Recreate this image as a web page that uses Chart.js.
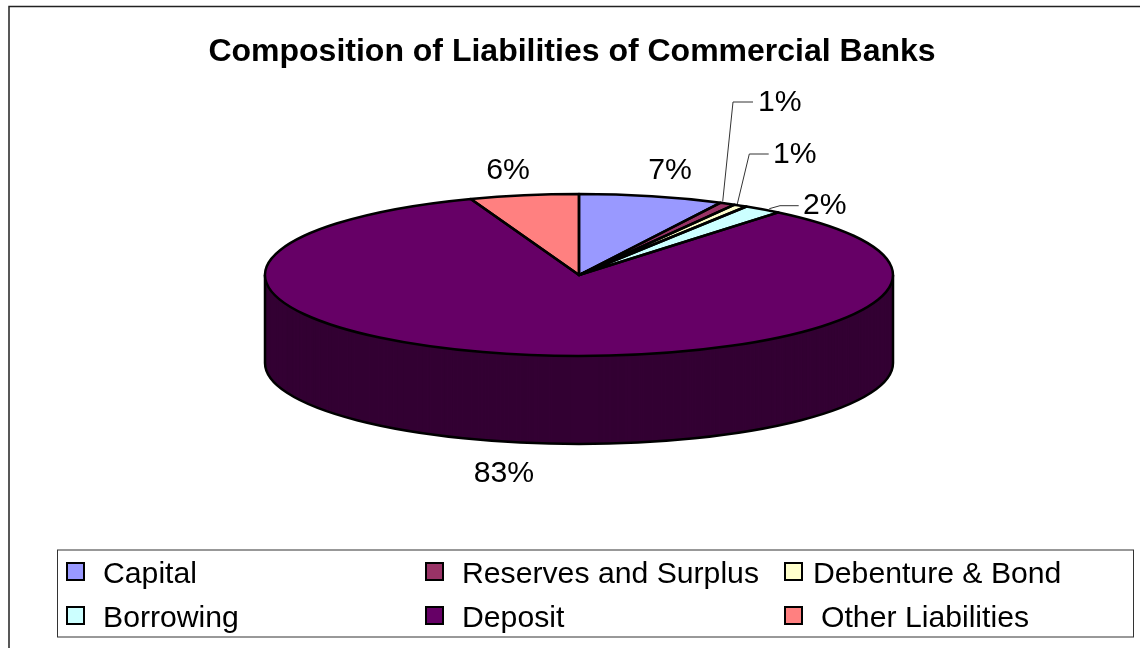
<!DOCTYPE html>
<html>
<head>
<meta charset="utf-8">
<title>Composition of Liabilities of Commercial Banks</title>
<script src="https://cdn.jsdelivr.net/npm/chart.js@4/dist/chart.umd.min.js"></script>
<style>
  html, body { margin: 0; padding: 0; background: #fff; overflow: hidden; }
  #wrap { position: relative; width: 1140px; height: 648px; }
</style>
</head>
<body>
<div id="wrap"><canvas id="pieChart" width="1140" height="648"></canvas></div>
<script>
var categories = ['Capital', 'Reserves and Surplus', 'Debenture & Bond', 'Borrowing', 'Deposit', 'Other Liabilities']
var shares = [7.45, 0.8, 0.7, 2.0, 83.45, 5.6]
var sliceColours = ['#9999FF', '#993366', '#FFFFCC', '#CCFFFF', '#660066', '#FF8080']
var sideColour = '#330033'

var FONT = '"Liberation Sans", Arial, sans-serif'

// the pie is a flat circle for Chart.js, squashed and extruded here
var pieX = 579, pieY = 275, squash = 81 / 314, depth = 88

// where each percent label goes, with a leader line for the small slices
var labelSpots = [
  { x: 670, y: 179 },
  { x: 758, y: 111, align: 'left', leader: [[722.7, 201.5], [733, 102], [753, 102]] },
  { x: 773, y: 163, align: 'left', leader: [[737.3, 204], [749.3, 154], [768.7, 154]] },
  { x: 803, y: 214, align: 'left', leader: [[769.3, 208.7], [780, 205.7], [798.7, 205.7]] },
  { x: 504, y: 482 },
  { x: 508, y: 179 }
]

var legendSpots = [
  { box: 67, text: 103, y: 563 },
  { box: 426, text: 462, y: 563 },
  { box: 785, text: 813, y: 563 },
  { box: 67, text: 103, y: 607 },
  { box: 426, text: 462, y: 607 },
  { box: 785, text: 821, y: 607 }
]

function squashed(ctx, arc, dy) {
  ctx.translate(pieX, pieY + dy)
  ctx.scale(1, squash)
  ctx.translate(-arc.x, -arc.y)
}

var flatFill = function(colour) {
  return {
    backgroundColor: colour, borderColor: colour, borderWidth: 0, borderAlign: 'center',
    borderDash: [], borderDashOffset: 0, borderJoinStyle: 'round', borderRadius: 0,
    circular: true, offset: 0, spacing: 0, selfJoin: false
  }
}

var pie3d = {
  id: 'pie3d',
  beforeDatasetsDraw: function(chart) {
    var ctx = chart.ctx
    var arcs = chart.getDatasetMeta(0).data

    // side wall, bottom layer first
    for (var d = depth; d > 0; d--) {
      for (let arc of arcs) {
        var keep = arc.options
        arc.options = flatFill(sideColour)
        ctx.save()
        squashed(ctx, arc, d)
        arc.draw(ctx)
        ctx.restore()
        arc.options = keep
      }
    }

    // wall outline, stroked outside the transform so the pen stays even
    var first = arcs[0]
    ctx.save()
    ctx.lineWidth = 2.5
    ctx.strokeStyle = '#000'
    ctx.beginPath()
    ctx.save()
    squashed(ctx, first, depth)
    ctx.arc(first.x, first.y, first.outerRadius, 0, Math.PI)
    ctx.restore()
    ctx.stroke()
    ctx.beginPath()
    ctx.moveTo(pieX - first.outerRadius, pieY)
    ctx.lineTo(pieX - first.outerRadius, pieY + depth)
    ctx.moveTo(pieX + first.outerRadius, pieY)
    ctx.lineTo(pieX + first.outerRadius, pieY + depth)
    ctx.stroke()
    ctx.restore()

    ctx.save()
    squashed(ctx, first, 0)
  },
  afterDatasetsDraw: function(chart) {
    var ctx = chart.ctx
    ctx.restore()

    // slice outlines
    ctx.save()
    ctx.lineWidth = 2.5
    ctx.strokeStyle = '#000'
    ctx.lineJoin = 'round'
    for (let arc of chart.getDatasetMeta(0).data) {
      ctx.beginPath()
      ctx.save()
      squashed(ctx, arc, 0)
      ctx.arc(arc.x, arc.y, arc.outerRadius, arc.startAngle, arc.endAngle)
      ctx.lineTo(arc.x, arc.y)
      ctx.closePath()
      ctx.restore()
      ctx.stroke()
    }
    ctx.restore()
  },
  afterDraw: function(chart) {
    var ctx = chart.ctx
    var total = shares.reduce(function(a, b) { return a + b }, 0)

    ctx.save()
    // chart frame: only the left and top edges fall inside the picture
    ctx.strokeStyle = '#222'
    ctx.lineWidth = 1.5
    ctx.beginPath()
    ctx.moveTo(9, 648)
    ctx.lineTo(9, 6.5)
    ctx.lineTo(1140, 6.5)
    ctx.stroke()

    // percent labels
    ctx.font = '30.2px ' + FONT
    ctx.fillStyle = '#000'
    ctx.textBaseline = 'alphabetic'
    labelSpots.forEach(function(spot, i) {
      if (spot.leader) {
        ctx.strokeStyle = '#333'
        ctx.lineWidth = 1
        ctx.beginPath()
        spot.leader.forEach(function(p, j) {
          if (j == 0) ctx.moveTo(p[0], p[1])
          else ctx.lineTo(p[0], p[1])
        })
        ctx.stroke()
      }
      ctx.textAlign = spot.align || 'center'
      ctx.fillText(Math.round(shares[i] / total * 100) + '%', spot.x, spot.y)
    })

    // legend, in the fixed columns the built-in one can't do
    ctx.strokeStyle = '#333'
    ctx.lineWidth = 1
    ctx.strokeRect(57.5, 550, 1076, 87)
    ctx.textAlign = 'left'
    categories.forEach(function(name, i) {
      var spot = legendSpots[i]
      ctx.fillStyle = sliceColours[i]
      ctx.fillRect(spot.box, spot.y, 17, 17)
      ctx.strokeStyle = '#000'
      ctx.lineWidth = 2
      ctx.strokeRect(spot.box, spot.y, 17, 17)
      ctx.fillStyle = '#000'
      ctx.fillText(name, spot.text, spot.y + 20)
    })
    ctx.restore()
  }
}

new Chart(document.getElementById('pieChart').getContext('2d'), {
  type: 'pie',
  data: {
    labels: categories,
    datasets: [{
      data: shares,
      backgroundColor: sliceColours,
      borderWidth: 0,
      clip: false
    }]
  },
  options: {
    responsive: false,
    animation: false,
    radius: 314,
    layout: { padding: { left: 4, right: 0, top: 0, bottom: 0 } },
    plugins: {
      legend: { display: false },
      tooltip: { enabled: false },
      title: {
        display: true,
        text: 'Composition of Liabilities of Commercial Banks',
        color: '#000',
        font: { family: FONT, size: 32, weight: 'bold' },
        padding: { top: 33, bottom: 10 }
      }
    }
  },
  plugins: [pie3d]
})
</script>
</body>
</html>
